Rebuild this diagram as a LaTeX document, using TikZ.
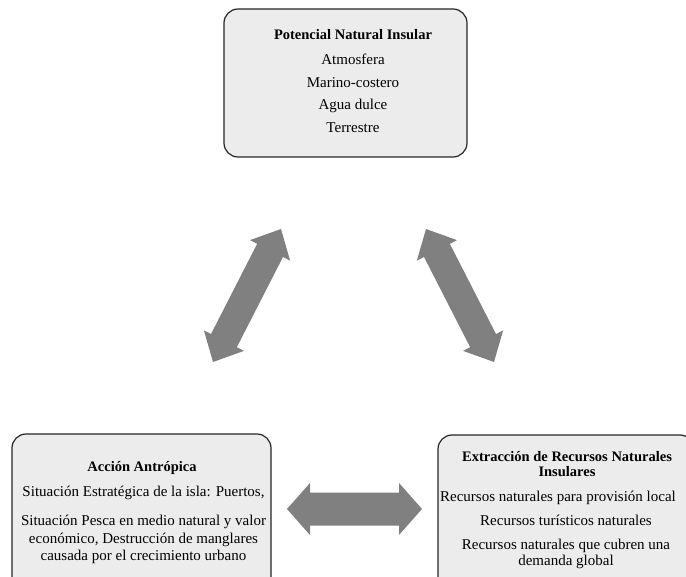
\documentclass[tikz,border=0pt]{standalone}
\usepackage{fontspec}
\setmainfont{Liberation Serif}
\usetikzlibrary{calc}
\definecolor{boxfill}{RGB}{236,236,236}
\definecolor{boxline}{RGB}{38,38,38}
\definecolor{arrowgray}{RGB}{128,128,128}
\tikzset{
  box/.style={draw=boxline, fill=boxfill, line width=1.2pt, rounded corners=14pt, inner sep=0pt},
  txt/.style={inner sep=0pt, anchor=base, font=\fontsize{15}{17}\selectfont},
  ttl/.style={txt, font=\fontsize{14.5}{17}\selectfont\bfseries},
  fatarrow/.style={fill=arrowgray, draw=none}
}
% #1 start, #2 end, #3 half shaft, #4 half head, #5 head length
\newcommand{\fatdblarrow}[5]{%
  \path[fatarrow] (#1)
    -- ($(#1)!#5!(#2)!#4!90:(#2)$)
    -- ($(#1)!#5!(#2)!#3!90:(#2)$)
    -- ($(#2)!#5!(#1)!#3!-90:(#1)$)
    -- ($(#2)!#5!(#1)!#4!-90:(#1)$)
    -- (#2)
    -- ($(#2)!#5!(#1)!#4!90:(#1)$)
    -- ($(#2)!#5!(#1)!#3!90:(#1)$)
    -- ($(#1)!#5!(#2)!#3!-90:(#2)$)
    -- ($(#1)!#5!(#2)!#4!-90:(#2)$)
    -- cycle;}
\begin{document}
\begin{tikzpicture}[x=1pt,y=-1pt]
\useasboundingbox (0,0) rectangle (686,577);
\fill[white] (0,0) rectangle (686,577);
% boxes
\node[box, minimum width=243pt, minimum height=148pt] (pot) at (345.5,83) {};
\node[box, minimum width=259pt, minimum height=160pt] (acc) at (141.5,514) {};
\node[box, minimum width=256pt, minimum height=160pt] (ext) at (566,515) {};
% top text
\node[ttl] (p0) at (353,40) {Potencial Natural Insular};
\node[txt] (p1) at (353,65) {Atmosfera};
\node[txt] (p2) at (353,87.5) {Marino-costero};
\node[txt] (p3) at (353,110) {Agua dulce};
\node[txt] (p4) at (353,132.5) {Terrestre};
% bottom-left text
\node[ttl] (a0) at (142,471.5) {Acción Antrópica};
\node[txt] (a1) at (143.5,496.5) {Situación Estratégica de la isla: Puertos,};
\node[txt] (a2) at (143.5,525.5) {Situación Pesca en medio natural y valor};
\node[txt] (a3) at (143.5,543) {económico, Destrucción de manglares};
\node[txt] (a4) at (143.5,560) {causada por el crecimiento urbano};
% bottom-right text
\node[ttl] (e0) at (567,461.5) {Extracción de Recursos Naturales};
\node[ttl] (e1) at (567,476.5) {Insulares};
\node[txt] (e2) at (558,501) {Recursos naturales para provisión local};
\node[txt] (e3) at (566,525) {Recursos turísticos naturales};
\node[txt] (e4) at (566,549) {Recursos naturales que cubren una};
\node[txt] (e5) at (566,565) {demanda global};
% arrow end points
\coordinate (l1) at (281,229);
\coordinate (l2) at (213,362);
\coordinate (r1) at (426,229);
\coordinate (r2) at (494,362);
\coordinate (h1) at (287,509);
\coordinate (h2) at (422,509);
\fatdblarrow{l2}{l1}{14.5pt}{22.5pt}{24pt}
\fatdblarrow{r1}{r2}{14.5pt}{22.5pt}{24pt}
\fatdblarrow{h1}{h2}{16.5pt}{26pt}{23pt}
\end{tikzpicture}
\end{document}
